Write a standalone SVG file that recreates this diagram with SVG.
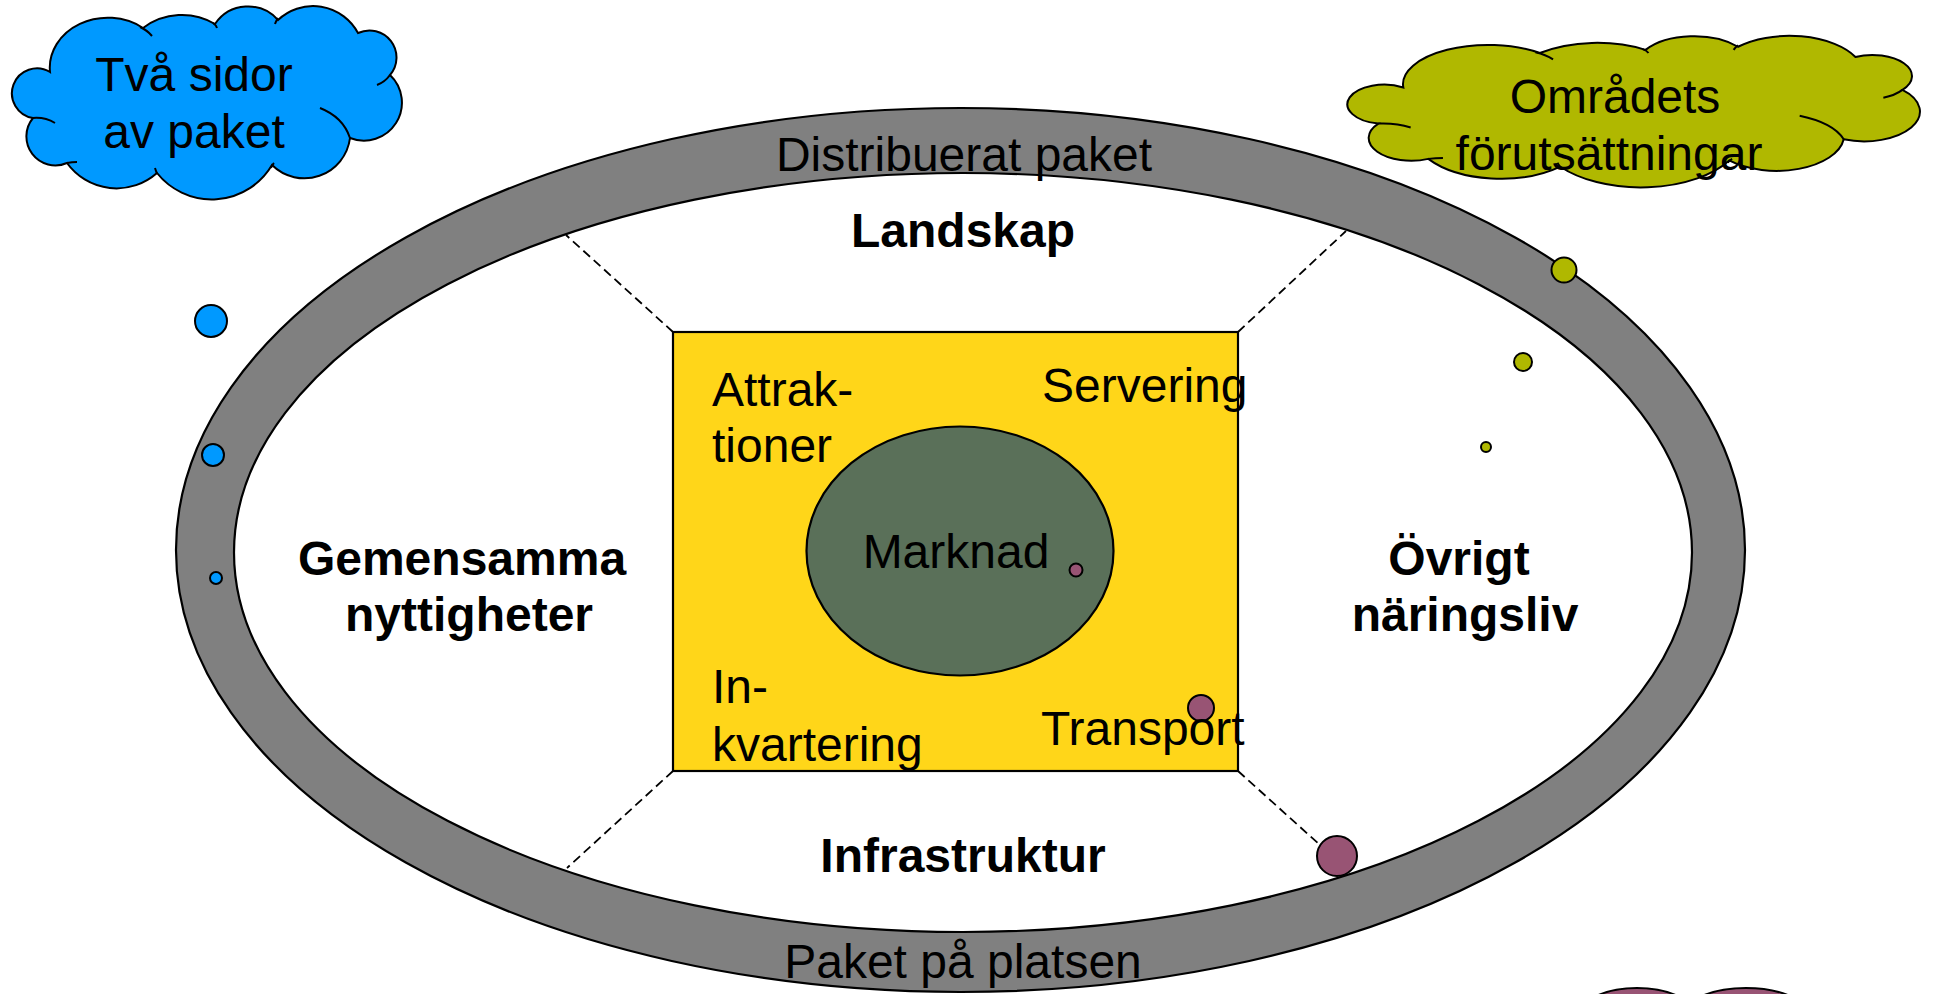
<svg xmlns="http://www.w3.org/2000/svg" xmlns:xlink="http://www.w3.org/1999/xlink" width="1936" height="994" viewBox="0 0 1936 994">
<style>
.t{font-family:"Liberation Sans",Arial,sans-serif;font-size:48px;fill:#000}
.b{font-weight:bold}
.m{text-anchor:middle}
.ol{stroke:#000;stroke-width:2.2}
.dash{stroke:#000;stroke-width:1.8;stroke-dasharray:9 5;fill:none}
.pur{fill:#985474;stroke:#000;stroke-width:2}
.blu{fill:#0099FF;stroke:#000;stroke-width:2}
.olv{fill:#B0B800;stroke:#000;stroke-width:2}
</style>
<defs>
<path id="cloudShape" vector-effect="non-scaling-stroke" d="M20 113 A25 25 0 1 1 37 67 A58 50 0 0 1 130 23 A65 65 0 0 1 202 19 A40 40 0 0 1 265 15 A51 51 0 0 1 345 28 A27 27 0 0 1 377 70 A38 38 0 0 1 337 133 A46 46 0 0 1 259 160 A70 70 0 0 1 144 168 A61 61 0 0 1 54 158 A29 29 0 0 1 20 113 Z"/>
<path id="cloudInner" vector-effect="non-scaling-stroke" fill="none" d="M20 113 Q32 112 42 118 M127 22 Q134 25 139 31 M200 18 Q203 20 204 23 M262 19 Q263 16 265 13 M364 80 Q372 77 377 70 M307 103 Q330 112 337 133 M258 163 Q259 160 261 158 M142 163 Q143 166 144 169 M54 158 Q59 157 64 157"/>
</defs>

<g id="ring">
<ellipse cx="960.5" cy="550" rx="784.5" ry="442" fill="#808080" class="ol"/>
<ellipse cx="963" cy="552.5" rx="729" ry="379.5" fill="#FFFFFF" class="ol"/>
<text class="t m" x="964" y="171">Distribuerat paket</text>
<text class="t m" x="963" y="978">Paket på platsen</text>
</g>

<g id="connectors">
<line class="dash" x1="673" y1="332" x2="566" y2="235"/>
<line class="dash" x1="1238" y1="332" x2="1346" y2="231"/>
<line class="dash" x1="673" y1="771" x2="567" y2="868"/>
<line class="dash" x1="1238" y1="771" x2="1320" y2="845"/>
</g>

<g id="landskap"><text class="t b m" x="963" y="247">Landskap</text></g>
<g id="gemensamma"><text class="t b m" x="462" y="575">Gemensamma</text><text class="t b m" x="469" y="631">nyttigheter</text></g>
<g id="ovrigt"><text class="t b m" x="1459" y="575">Övrigt</text><text class="t b m" x="1465" y="631">näringsliv</text></g>
<g id="infrastruktur"><text class="t b m" x="963" y="872">Infrastruktur</text></g>

<g id="paket">
<rect x="673" y="332" width="565" height="439" fill="#FFD619" class="ol"/>
<circle class="pur" cx="1201" cy="708" r="13"/>
<text class="t" x="712" y="406">Attrak-</text>
<text class="t" x="712" y="462">tioner</text>
<text class="t" x="1042" y="402">Servering</text>
<text class="t" x="712" y="703">In-</text>
<text class="t" x="712" y="761">kvartering</text>
<text class="t" x="1041" y="745">Transport</text>
</g>

<g id="marknad">
<ellipse cx="960" cy="551" rx="153.5" ry="124.5" fill="#5A7059" class="ol"/>
<text class="t m" x="956" y="568">Marknad</text>
<circle class="pur" cx="1076" cy="570" r="6.5"/>
</g>

<g id="dots">
<circle class="blu" cx="211" cy="321" r="16"/>
<circle class="blu" cx="213" cy="455" r="11"/>
<circle class="blu" cx="216" cy="578" r="6"/>
<circle class="olv" cx="1564" cy="270" r="12.5"/>
<circle class="olv" cx="1523" cy="362" r="9"/>
<circle class="olv" cx="1486" cy="447" r="5"/>
<circle class="pur" cx="1337" cy="856" r="20"/>
</g>

<g id="cloud-blue">
<use xlink:href="#cloudShape" transform="translate(13,5)" fill="#0099FF" stroke="#000" stroke-width="2"/>
<use xlink:href="#cloudInner" transform="translate(13,5)" stroke="#000" stroke-width="2"/>
<text class="t m" x="194" y="91">Två sidor</text>
<text class="t m" x="194" y="148">av paket</text>
</g>

<g id="cloud-olive">
<use xlink:href="#cloudShape" transform="translate(1349,35) scale(1.468,0.784)" fill="#B0B800" stroke="#000" stroke-width="2"/>
<use xlink:href="#cloudInner" transform="translate(1349,35) scale(1.468,0.784)" stroke="#000" stroke-width="2"/>
<text class="t m" x="1615" y="113">Områdets</text>
<text class="t m" x="1609" y="170">förutsättningar</text>
</g>

<g id="cloud-purple">
<ellipse class="pur" cx="1637" cy="1018" rx="60" ry="30"/>
<ellipse class="pur" cx="1746" cy="1018" rx="65" ry="30"/>
</g>
</svg>
